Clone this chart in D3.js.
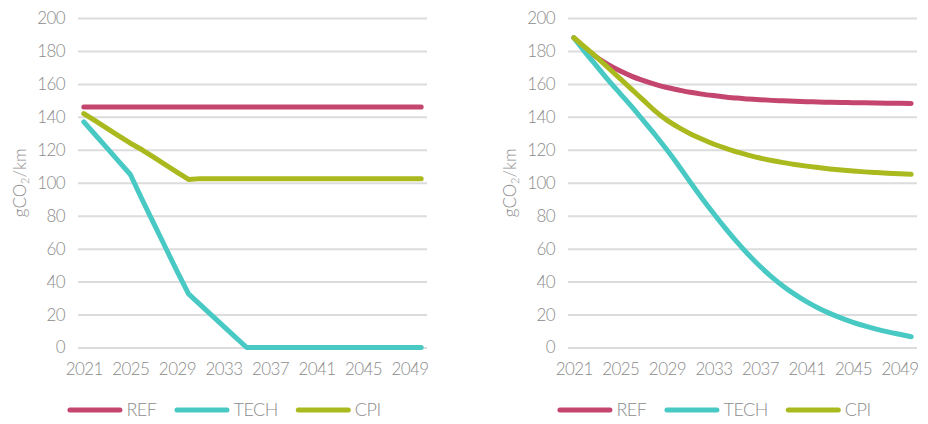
<!DOCTYPE html>
<html>
<head>
<meta charset="utf-8">
<script src="https://cdn.jsdelivr.net/npm/d3@7"></script>
<style>
  html, body { margin: 0; padding: 0; background: #fff; }
  svg, svg text { font-family: "Lato", "Open Sans", sans-serif; font-weight: 300; }
</style>
</head>
<body>
<svg id="chart" width="928" height="424"></svg>
<script>
// Years on the category axis and the labels shown beneath it
const years = [2021, 2022, 2023, 2024, 2025, 2026, 2027, 2028, 2029, 2030,
               2031, 2032, 2033, 2034, 2035, 2036, 2037, 2038, 2039, 2040,
               2041, 2042, 2043, 2044, 2045, 2046, 2047, 2048, 2049, 2050];
const xTickLabels = [2021, 2025, 2029, 2033, 2037, 2041, 2045, 2049];
const yTicks = [0, 20, 40, 60, 80, 100, 120, 140, 160, 180, 200];
const seriesNames = ["REF", "TECH", "CPI"];

// Left panel: emissions in gCO2/km
const leftREF = [146, 146, 146, 146, 146, 146, 146, 146, 146, 146,
                 146, 146, 146, 146, 146, 146, 146, 146, 146, 146,
                 146, 146, 146, 146, 146, 146, 146, 146, 146, 146];
const leftTECH = [137, 129, 121, 113, 105, 90, 75.5, 61, 46.5, 32.5,
                  26, 19.5, 13, 6.5, 0, 0, 0, 0, 0, 0,
                  0, 0, 0, 0, 0, 0, 0, 0, 0, 0];
const leftCPI = [142, 137.5, 133, 128.5, 124, 120, 115.5, 111, 106.5, 102,
                 102.5, 102.5, 102.5, 102.5, 102.5, 102.5, 102.5, 102.5, 102.5, 102.5,
                 102.5, 102.5, 102.5, 102.5, 102.5, 102.5, 102.5, 102.5, 102.5, 102.5];

// Right panel: emissions in gCO2/km
const rightREF = [188, 181.5, 176, 171.5, 167.8, 164.6, 162, 159.7, 157.8, 156.3,
                  154.9, 153.8, 152.9, 152.1, 151.4, 150.9, 150.4, 150, 149.7, 149.4,
                  149.2, 149, 148.8, 148.7, 148.6, 148.5, 148.4, 148.3, 148.2, 148.1];
const rightTECH = [188, 179, 170.5, 162, 154, 146, 137.5, 129, 120, 110.5,
                   100.5, 90.8, 81.5, 72.6, 64.2, 56.4, 49.3, 42.9, 37.2, 32.2,
                   27.8, 24, 20.7, 17.8, 15.3, 13.1, 11.2, 9.5, 8, 6.5];
const rightCPI = [188, 182, 176, 169.5, 163, 156.5, 150, 143.5, 138, 133.6,
                  129.8, 126.5, 123.5, 121, 118.7, 116.8, 115, 113.5, 112.2, 111.1,
                  110.1, 109.2, 108.4, 107.7, 107.1, 106.6, 106.2, 105.8, 105.4, 105.1];

const colors = { REF: "#c4466f", TECH: "#48c9c4", CPI: "#aab91e" };
const textColor = "#8c8c8c";
const gridColor = "#dcdcdc";
const fontFamily = "Lato, 'Open Sans', sans-serif";

const svg = d3.select("#chart");

function drawPanel(offsetX, series, curve) {
  const plot = { left: 78, right: 427, top: 18, bottom: 347.5 };
  const g = svg.append("g").attr("transform", `translate(${offsetX},0)`);

  const x = d3.scalePoint().domain(years).range([plot.left, plot.right]).padding(0.5);
  const y = d3.scaleLinear().domain([0, 200]).range([plot.bottom, plot.top]);

  // value axis with full-width gridlines
  const yAxis = g.append("g")
    .attr("transform", `translate(${plot.left},0)`)
    .call(d3.axisLeft(y).tickValues(yTicks).tickSizeInner(-(plot.right - plot.left))
      .tickSizeOuter(0).tickPadding(13))
    .attr("font-family", fontFamily);
  yAxis.select(".domain").remove();
  yAxis.selectAll(".tick line").attr("stroke", gridColor).attr("stroke-width", 2);
  yAxis.selectAll(".tick text")
    .attr("fill", textColor).attr("font-size", 17).attr("letter-spacing", -0.6);

  // category axis, labelled every fourth year
  const xAxis = g.append("g")
    .attr("transform", `translate(0,${plot.bottom})`)
    .call(d3.axisBottom(x).tickValues(xTickLabels).tickSize(0).tickPadding(15))
    .attr("font-family", fontFamily);
  xAxis.select(".domain").remove();
  xAxis.selectAll(".tick text")
    .attr("fill", textColor).attr("font-size", 17).attr("letter-spacing", -0.6);

  // axis title
  const title = g.append("text")
    .attr("transform", `translate(26,${(plot.top + plot.bottom) / 2}) rotate(-90)`)
    .attr("text-anchor", "middle")
    .attr("font-family", fontFamily)
    .attr("fill", textColor).attr("font-size", 17);
  title.append("tspan").text("gCO");
  title.append("tspan").attr("font-size", 11).attr("dy", 3).text("2");
  title.append("tspan").attr("dy", -3).text("/km");

  // series lines
  const line = d3.line()
    .x((d, i) => x(years[i]))
    .y(d => y(d))
    .curve(curve);
  seriesNames.forEach(name => {
    g.append("path")
      .datum(series[name])
      .attr("fill", "none")
      .attr("stroke", colors[name])
      .attr("stroke-width", 5)
      .attr("stroke-linecap", "round")
      .attr("stroke-linejoin", "round")
      .attr("d", line);
  });

  // legend, centred below the panel
  const legend = g.append("g");
  const swatch = 55, gap = 4, itemGap = 18, legendY = 410;
  let cursor = 0;
  seriesNames.forEach(name => {
    const item = legend.append("g").attr("transform", `translate(${cursor},0)`);
    item.append("line")
      .attr("x1", 2.5).attr("x2", swatch - 2.5)
      .attr("y1", legendY).attr("y2", legendY)
      .attr("stroke", colors[name]).attr("stroke-width", 5)
      .attr("stroke-linecap", "round");
    const t = item.append("text")
      .attr("x", swatch + gap).attr("y", legendY).attr("dy", "0.36em")
      .attr("font-family", fontFamily)
      .attr("fill", textColor).attr("font-size", 18).attr("letter-spacing", -0.5)
      .text(name);
    cursor += swatch + gap + t.node().getComputedTextLength() + itemGap;
  });
  const legendWidth = cursor - itemGap;
  legend.attr("transform", `translate(${224 - legendWidth / 2},0)`);
}

drawPanel(0, { REF: leftREF, TECH: leftTECH, CPI: leftCPI }, d3.curveLinear);
drawPanel(490, { REF: rightREF, TECH: rightTECH, CPI: rightCPI }, d3.curveMonotoneX);
</script>
</body>
</html>
